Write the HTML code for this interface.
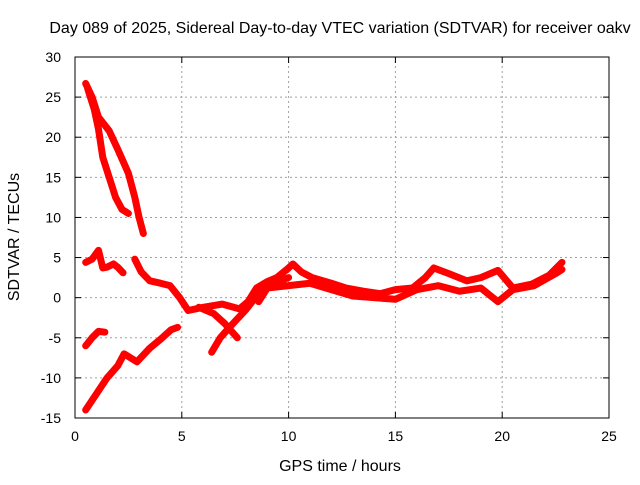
<!DOCTYPE html>
<html><head><meta charset="utf-8"><style>
body{margin:0;background:#fff;font-family:"Liberation Sans",sans-serif}
svg text{font-family:"Liberation Sans",sans-serif;font-size:14px;fill:#000}
svg text.big{font-size:16px}
</style></head><body>
<svg id="chart" width="640" height="480">
<text class="big" x="340" y="33" text-anchor="middle">Day 089 of 2025, Sidereal Day-to-day VTEC variation (SDTVAR) for receiver oakv</text>
<text class="big" x="340" y="471" text-anchor="middle">GPS time / hours</text>
<text class="big" transform="translate(19,237) rotate(-90)" text-anchor="middle">SDTVAR / TECUs</text>
<g id="grid"></g><g id="ticks"></g><g id="series"></g>
<rect x="75" y="57" width="534" height="361" fill="none" stroke="#000" stroke-width="1"/>
</svg>
<script>
const xTicks=[0,5,10,15,20,25];
const yTicks=[-15,-10,-5,0,5,10,15,20,25,30];
const seriesA=[[0.5,26.7],[0.8,25],[1.1,22.5],[1.6,20.8],[2.0,18.5],[2.5,15.5],[2.8,12.5],[3.0,10],[3.2,8]];
const seriesB=[[0.6,26],[0.9,23.5],[1.1,21],[1.3,17.5],[1.6,15],[1.9,12.5],[2.2,11],[2.5,10.5]];
const seriesC=[[0.5,4.4],[0.8,4.8],[1.1,5.9],[1.3,3.7],[1.5,3.8],[1.8,4.2],[2.0,3.8],[2.25,3.1]];
const seriesD=[[2.8,4.8],[3.1,3.2],[3.5,2.1],[4.0,1.8],[4.45,1.5],[4.9,0],[5.3,-1.6],[6.0,-1.2],[6.9,-0.8],[7.7,-1.4],[8.1,-0.5],[8.5,1.2],[9.0,2.0],[9.45,2.5],[10.0,3.7],[10.2,4.2],[10.6,3.2],[11.1,2.5],[12.0,1.8],[12.7,1.2],[13.5,0.8],[14.3,0.5],[15.0,1.0],[15.8,1.2],[16.4,2.5],[16.8,3.7],[17.5,3.0],[18.35,2.1],[19.0,2.5],[19.8,3.4],[20.5,1.2],[21.4,1.7],[22.2,2.8],[22.8,4.4]];
const seriesE=[[8.6,-0.5],[9.0,1.2],[10.0,1.5],[11.0,1.8],[12.0,1.0],[13.0,0.2],[14.0,0.0],[15.0,-0.2],[16.0,1.0],[17.0,1.5],[18.0,0.8],[19.0,1.2],[19.8,-0.5],[20.5,1.0],[21.5,1.5],[22.5,3.0],[22.8,3.5]];
const seriesF=[[6.4,-6.8],[6.8,-5.0],[7.3,-3.5],[8.0,-1.5],[8.5,0.2],[9.0,1.5],[10.0,2.5]];
const seriesG=[[5.8,-1.2],[6.5,-2.0],[7.0,-3.2],[7.6,-5.0]];
const seriesH=[[0.5,-6.0],[0.8,-5.0],[1.1,-4.2],[1.4,-4.3]];
const seriesI=[[0.5,-14],[1.0,-12],[1.5,-10],[2.0,-8.5],[2.3,-7],[2.9,-8],[3.5,-6.3],[4.0,-5.2],[4.5,-4.0],[4.8,-3.7]];
const allSeries=[seriesA,seriesB,seriesC,seriesD,seriesE,seriesF,seriesG,seriesH,seriesI];
const X0=75,X1=609,Y0=418,Y1=57;
const xs=h=>X0+(h-0)/(25-0)*(X1-X0);
const ys=v=>Y0-(v+15)/(45)*(Y0-Y1);
const NS="http://www.w3.org/2000/svg";
const grid=document.getElementById('grid'),ticks=document.getElementById('ticks'),ser=document.getElementById('series');
function mk(t,a){const e=document.createElementNS(NS,t);for(const k in a)e.setAttribute(k,a[k]);return e;}
xTicks.forEach(t=>{const x=xs(t);
 if(t>0&&t<25){const g=mk('line',{x1:x,x2:x,y1:Y0,y2:Y1,stroke:'#a0a0a0','stroke-dasharray':'2,3'});
 
 grid.appendChild(g);}
 const tk=mk('line',{x1:x,x2:x,y1:Y0,y2:Y0-6,stroke:'#000'});
 
 ticks.appendChild(tk);
 const tk2=mk('line',{x1:x,x2:x,y1:Y1,y2:Y1+6,stroke:'#000'});ticks.appendChild(tk2);
 const l=mk('text',{x:x,y:Y0+23,'text-anchor':'middle'});l.textContent=t;
 
 ticks.appendChild(l);});
yTicks.forEach(t=>{const y=ys(t);
 if(t>-15&&t<30){const g=mk('line',{x1:X0,x2:X1,y1:y,y2:y,stroke:'#a0a0a0','stroke-dasharray':'2,3'});
 
 grid.appendChild(g);}
 const tk=mk('line',{x1:X0,x2:X0+6,y1:y,y2:y,stroke:'#000'});
 
 ticks.appendChild(tk);
 ticks.appendChild(mk('line',{x1:X1,x2:X1-6,y1:y,y2:y,stroke:'#000'}));
 const l=mk('text',{x:X0-14,y:y+5,'text-anchor':'end'});l.textContent=t;
 
 ticks.appendChild(l);});
allSeries.forEach((s,i)=>{const p=mk('polyline',{points:s.map(d=>xs(d[0])+','+ys(d[1])).join(' '),fill:'none',stroke:'#ff0000','stroke-width':7,'stroke-linejoin':'round','stroke-linecap':'round'});
 
 ser.appendChild(p);});
</script>
</body></html>
